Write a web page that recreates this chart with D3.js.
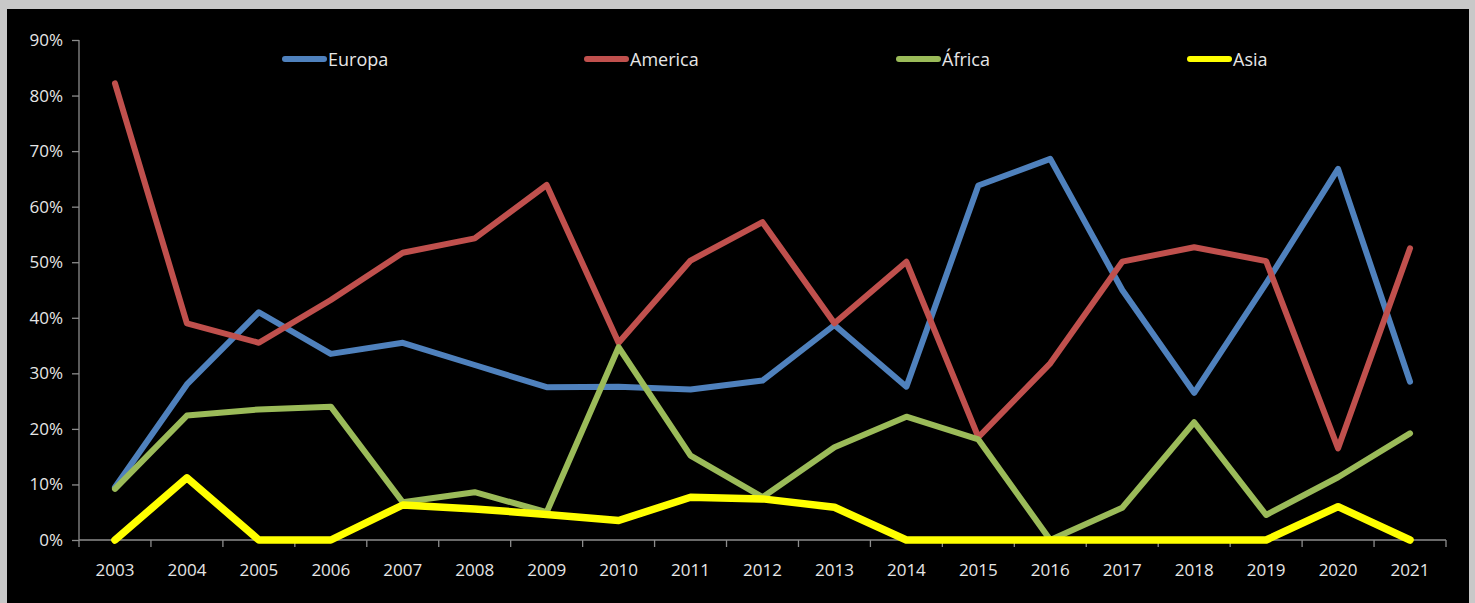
<!DOCTYPE html>
<html><head><meta charset="utf-8">
<script src="https://cdn.jsdelivr.net/npm/d3@7"></script>
<style>
html,body{margin:0;padding:0;background:#c8c8c8;}
svg{display:block;}
</style></head>
<body>
<script>
const years = ["2003","2004","2005","2006","2007","2008","2009","2010","2011","2012","2013","2014","2015","2016","2017","2018","2019","2020","2021"];
const europa  = [0.095,0.28,0.41,0.335,0.355,0.315,0.275,0.276,0.271,0.287,0.387,0.276,0.638,0.686,0.45,0.265,0.462,0.668,0.285];
const america = [0.822,0.39,0.355,0.432,0.517,0.543,0.639,0.355,0.503,0.572,0.39,0.501,0.185,0.318,0.501,0.527,0.502,0.165,0.525];
const africa  = [0.092,0.224,0.235,0.24,0.068,0.086,0.05,0.347,0.152,0.077,0.167,0.222,0.181,0.0,0.058,0.212,0.045,0.113,0.192];
const asia    = [0.0,0.112,0.0,0.0,0.063,0.056,0.046,0.035,0.077,0.074,0.059,0.0,0.0,0.0,0.0,0.0,0.0,0.06,0.0];
const seriesNames = ["Europa","America","África","Asia"];
const yTicks = [0,0.1,0.2,0.3,0.4,0.5,0.6,0.7,0.8,0.9];

const seriesData = [europa, america, africa, asia];
const colors = ["#4f81bd","#c0504d","#9bbb59","#ffff00"];
const widths = [6,6,6,7.5];

const W = 1475, H = 603;
const svg = d3.select("body").append("svg").attr("width", W).attr("height", H);
svg.append("rect").attr("x",0).attr("y",0).attr("width",W).attr("height",H).attr("fill","#c8c8c8");
svg.append("rect").attr("x",7).attr("y",9).attr("width",1462).attr("height",H-9).attr("fill","#000");

const x = d3.scaleBand().domain(years).range([79,1446]).padding(0);
const y = d3.scaleLinear().domain([0,0.9]).range([540,40]);
const font = "'Open Sans', 'Noto Sans', sans-serif";
const txt = "#e6e6e6";
const axisCol = "#8c8c8c";

// Y axis
const yAxis = d3.axisLeft(y).tickValues(yTicks).tickFormat(d3.format(".0%")).tickSize(7).tickPadding(9);
const gy = svg.append("g").attr("transform","translate(79,0)").call(yAxis);
gy.select(".domain").attr("stroke",axisCol).attr("stroke-width",1.3).attr("d","M0,40V540");
gy.selectAll(".tick line").attr("stroke",axisCol).attr("stroke-width",1.3);
gy.selectAll(".tick text").attr("fill",txt).style("font-family",font).style("font-size","17px");

// X axis
const xAxis = d3.axisBottom(x).tickSize(0).tickPadding(24);
const gx = svg.append("g").attr("transform","translate(0,540)").call(xAxis);
gx.select(".domain").attr("stroke",axisCol).attr("stroke-width",1.3).attr("d","M79,0H1446");
gx.selectAll(".tick text").attr("fill",txt).style("font-family",font).style("font-size","17px");
const bounds = years.map(d => x(d)).concat([x.range()[1]]);
gx.selectAll(".btick").data(bounds).enter().append("line")
  .attr("x1",d=>d).attr("x2",d=>d).attr("y1",0).attr("y2",7)
  .attr("stroke",axisCol).attr("stroke-width",1.3);

// Lines
const line = d3.line().x((d,i)=>x(years[i])+x.bandwidth()/2).y(d=>y(d));
seriesData.forEach((s,k)=>{
  svg.append("path").datum(s).attr("d",line).attr("fill","none")
    .attr("stroke",colors[k]).attr("stroke-width",widths[k])
    .attr("stroke-linejoin","round").attr("stroke-linecap","round");
});

// Legend
const legX = [283,585,897,1188];
seriesNames.forEach((n,k)=>{
  const g = svg.append("g").attr("transform",`translate(${legX[k]},59)`);
  g.append("line").attr("x1",2).attr("x2",41).attr("y1",0).attr("y2",0)
    .attr("stroke",colors[k]).attr("stroke-width",6).attr("stroke-linecap","round");
  g.append("text").attr("x",45).attr("y",6.5).attr("fill",txt)
    .style("font-family",font).style("font-size","18px").text(n);
});
</script>
</body></html>
